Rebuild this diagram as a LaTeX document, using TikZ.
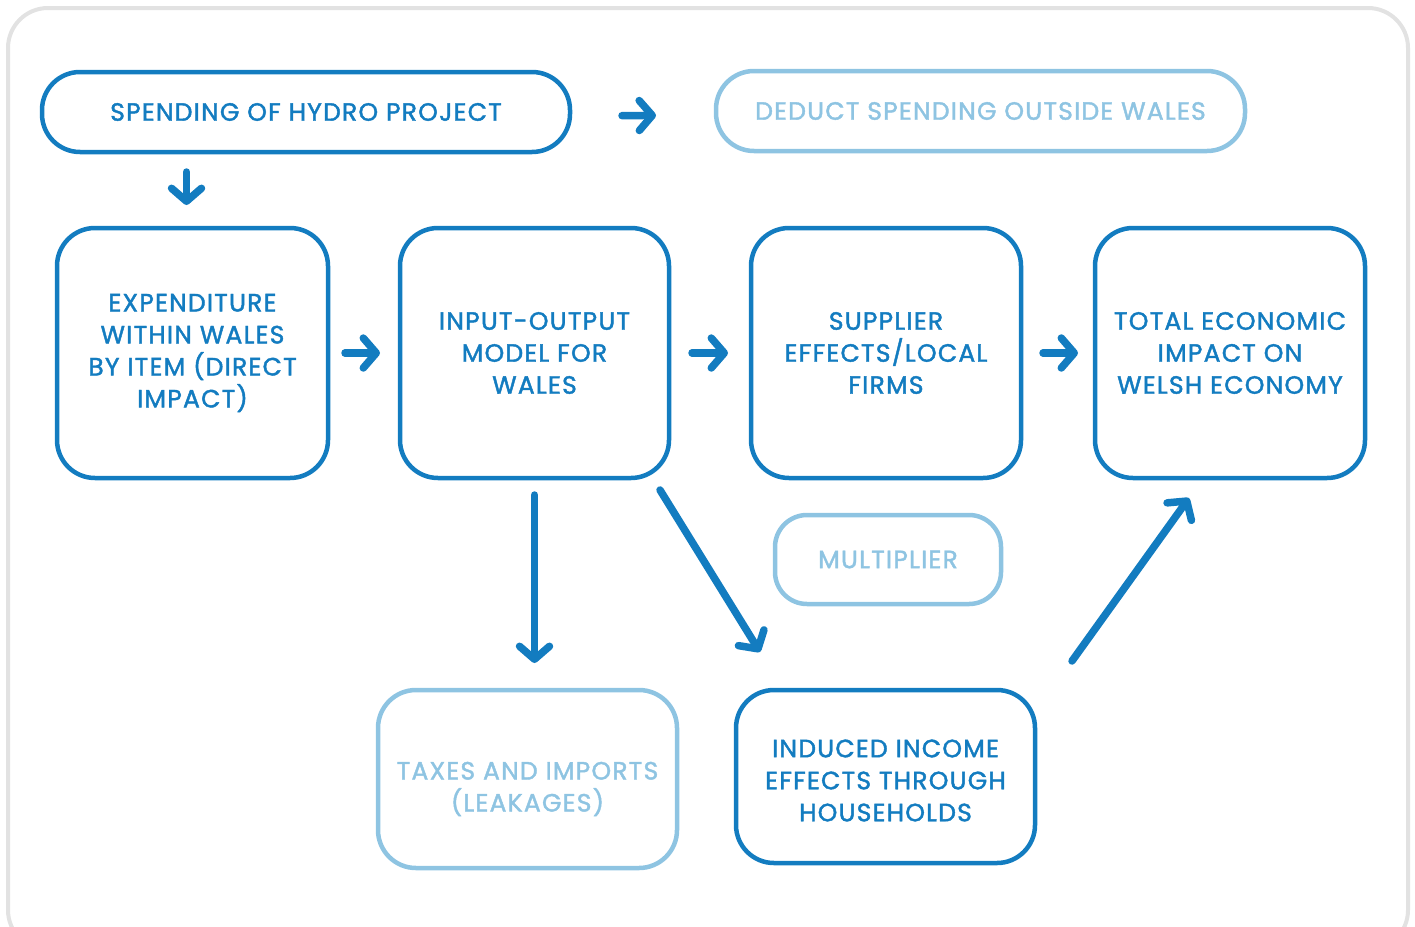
\documentclass[tikz,border=0pt]{standalone}
\usepackage{fontspec}
\setmainfont{Poppins}[LetterSpace=5, FakeBold=1.7]
\usetikzlibrary{arrows.meta}
\definecolor{dblue}{HTML}{137CC0}
\definecolor{lblue}{HTML}{8EC4E2}
\definecolor{frame}{HTML}{E2E2E2}
\begin{document}
\begin{tikzpicture}[x=1pt,y=-1pt,
  boxtext/.style={text=dblue, align=center, inner sep=0pt, outer sep=0pt,
    font=\fontsize{25}{32}\selectfont},
  box/.style={boxtext, draw=dblue, line width=4.5pt, rounded corners=38pt},
  pale/.style={box, draw=lblue, text=lblue},
  arr/.style={draw=dblue, line width=7.5pt, line cap=round,
    -{Straight Barb[length=13pt,width=30pt,round]}}]
\useasboundingbox (0,0) rectangle (1415,926);
% outer frame
\draw[frame, line width=4pt, rounded corners=40pt] (8,8) rectangle (1408,950);

% top row
\node[box, minimum width=528pt, minimum height=80pt] (top1) at (306,112) {SPENDING OF HYDRO PROJECT};
\node[pale, minimum width=529pt, minimum height=80pt] (top2) at (980.5,111) {DEDUCT SPENDING OUTSIDE WALES};

% main row
\node[box, minimum width=271pt, minimum height=250pt] (A) at (192.5,353) {EXPENDITURE\\WITHIN WALES\\BY ITEM (DIRECT\\IMPACT)};
\node[box, minimum width=269pt, minimum height=250pt] (B) at (534.5,353) {INPUT-OUTPUT\\MODEL FOR\\WALES};
\node[box, minimum width=270pt, minimum height=250pt] (C) at (886,353) {SUPPLIER\\EFFECTS/LOCAL\\FIRMS};
\node[box, minimum width=270pt, minimum height=250pt] (D) at (1230,353) {TOTAL ECONOMIC\\IMPACT ON\\WELSH ECONOMY};

% lower part
\node[pale, rounded corners=32pt, minimum width=226pt, minimum height=89pt] (mult) at (888,559.5) {MULTIPLIER};
\node[pale, minimum width=299pt, minimum height=178pt] (tax) at (527.5,779) {};
\node[boxtext, text=lblue] (taxtext) at ([yshift=-10pt]tax.center) {TAXES AND IMPORTS\\(LEAKAGES)};
\node[box, minimum width=299pt, minimum height=173pt] (ind) at (885.5,776.5) {};
\node[boxtext] (indtext) at ([yshift=-4pt]ind.center) {INDUCED INCOME\\EFFECTS THROUGH\\HOUSEHOLDS};

% connectors
\draw[arr, shorten <=52pt, shorten >=60pt] ([yshift=-4pt]top1.east) -- ([yshift=-4pt]top2.west);
\draw[arr, shorten <=20pt, shorten >=23pt] ([xshift=-6pt]top1.south -| A.north) -- ([xshift=-6pt]A.north);
\draw[arr, shorten <=17pt, shorten >=20pt] (A.east) -- (B.west);
\draw[arr, shorten <=23pt, shorten >=23pt] (B.east) -- (C.west);
\draw[arr, shorten <=22pt, shorten >=17pt] (C.east) -- (D.west);
\draw[arr, shorten <=17pt, shorten >=27pt] (B.south) -- (B.south |- tax.north);
\draw[arr] ([shift={(-9,12)}]B.south east) -- ([shift={(24,-38)}]ind.north west);
\draw[arr] ([shift={(37,-29)}]ind.north east) -- ([shift={(94,20)}]D.south west);
\end{tikzpicture}
\end{document}
